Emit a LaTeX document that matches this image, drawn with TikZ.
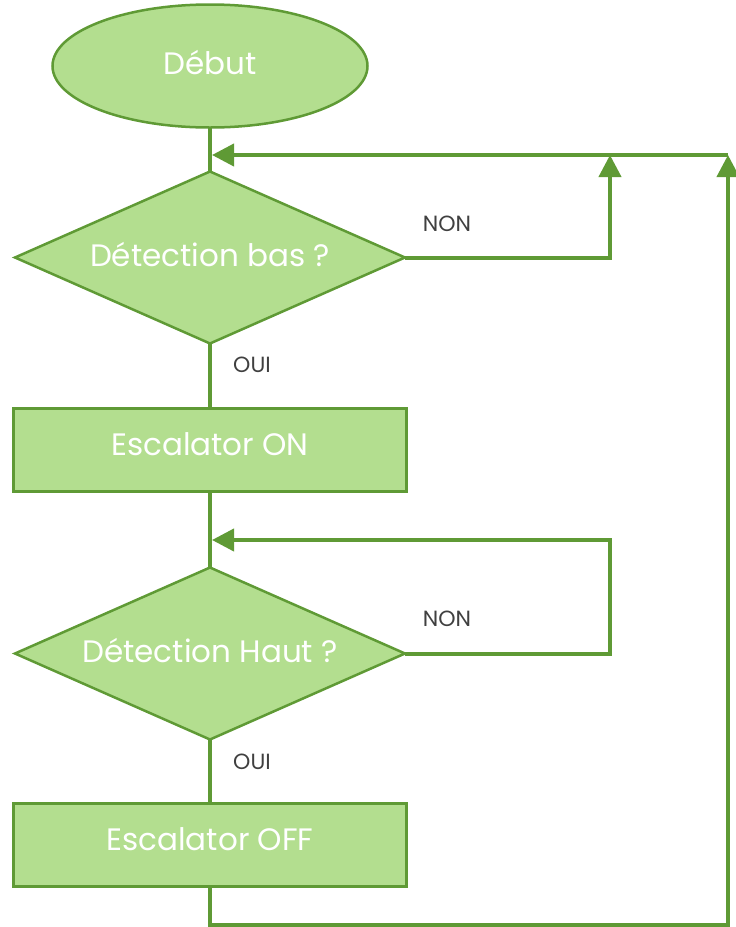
\documentclass[tikz,border=0pt]{standalone}
\usepackage{fontspec}
\setmainfont{Poppins}
\usetikzlibrary{positioning}
\usetikzlibrary{arrows.meta}
\usetikzlibrary{shapes.geometric}
\definecolor{vertclair}{HTML}{B3DE8F}
\definecolor{vertfonce}{HTML}{5F9A35}
\definecolor{gris}{HTML}{404040}

\begin{document}
\begin{tikzpicture}[x=1pt, y=1pt,
      debut/.style ={draw=vertfonce, line width=2.5pt, ellipse, fill=vertclair, minimum width=315pt, minimum height=123pt, inner sep=0pt, outer sep=0pt, text=white, text depth=8pt, font=\fontsize{31}{34}\selectfont},
      test/.style  ={draw=vertfonce, line width=2.5pt, diamond, aspect=2.27, fill=vertclair, minimum width=390pt, minimum height=172pt, inner sep=0pt, outer sep=0pt, text=white, text depth=6pt, font=\fontsize{31}{34}\selectfont},
      action/.style={rectangle, draw=vertfonce, line width=2.5pt, fill=vertclair, minimum width=393pt, minimum height=83pt, inner sep=0pt, outer sep=0pt, text=white, text depth=12pt, font=\fontsize{31}{34}\selectfont},
      ligne/.style ={draw=vertfonce, line width=4pt},
      fleche/.style={ligne, -{Triangle[length=22pt,width=22pt]}},
      reponse/.style={text=gris, font=\fontsize{22}{24}\selectfont},
      node distance=44pt
    ]
    \useasboundingbox (0,0) rectangle (736,-927);

    \node [debut] (debut) at (210,-66) {Début} ;
    \node [test] (bas) [below=44pt of debut] {Détection bas ?} ;
    \node [action] (on) [below=65pt of bas] {Escalator ON} ;
    \node [test] (haut) [below=76pt of on] {Détection Haut ?} ;
    \node [action] (off) [below=64pt of haut] {Escalator OFF} ;

    \node [reponse] (non1) at (447,-224) {NON} ;
    \node [reponse] (oui1) at (252,-365) {OUI} ;
    \node [reponse] (non2) at (447,-619) {NON} ;
    \node [reponse] (oui2) at (252,-762) {OUI} ;

    \coordinate (j1) at (212,-155) ;
    \coordinate (j2) at (212,-540) ;
    \coordinate (r1) at (610,-155) ;
    \coordinate (r2) at (610,-540) ;
    \coordinate (r3) at (728,-155) ;
    \coordinate (b3) at (728,-925) ;

    \draw [ligne] (debut) -- (bas) ;
    \draw [ligne] (bas) -- (on) ;
    \draw [ligne] (on) -- (haut) ;
    \draw [ligne] (haut) -- (off) ;
    \draw [fleche] (bas.east) -| (r1) ;
    \draw [fleche] (haut.east) -| (r2) -- (j2) ;
    \draw [fleche] (off.south) |- (b3) -- (r3) ;
    \draw [fleche] (r3) -- (j1) ;
  \end{tikzpicture}
\end{document}
